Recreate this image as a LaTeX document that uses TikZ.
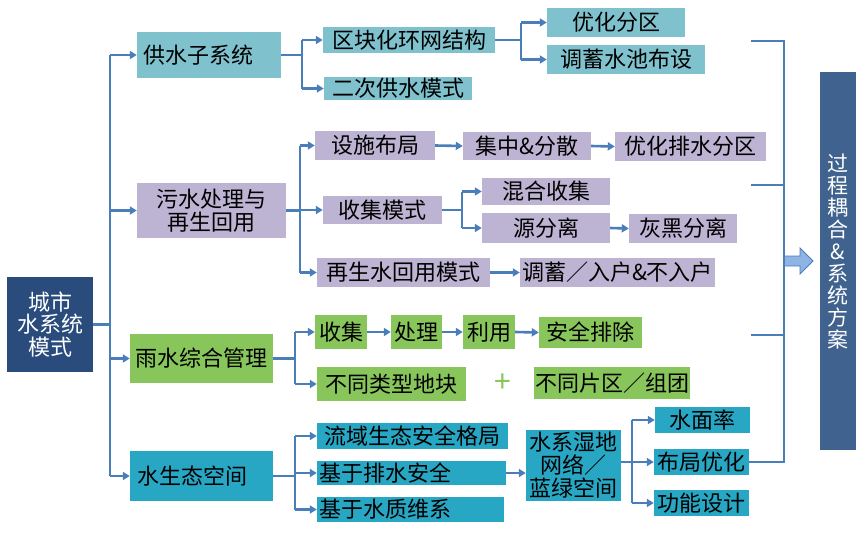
\documentclass[tikz,border=0pt]{standalone}
\usepackage{fontspec}
\setmainfont{Noto Sans CJK SC}
\usetikzlibrary{arrows.meta,calc}
\definecolor{cteal}{RGB}{127,194,206}
\definecolor{cpurple}{RGB}{189,179,210}
\definecolor{cgreen}{RGB}{136,198,92}
\definecolor{ceco}{RGB}{40,167,196}
\definecolor{cnavy}{RGB}{41,76,125}
\definecolor{cgc}{RGB}{64,98,142}
\definecolor{cline}{RGB}{74,126,187}
\definecolor{cafill}{RGB}{141,180,226}
\begin{document}
\begin{tikzpicture}[x=1pt,y=-1pt,
  bx/.style={rectangle,inner sep=0pt,text=black,font=\fontsize{22}{23}\selectfont,align=center},
  tealbox/.style={bx,fill=cteal},
  purbox/.style={bx,fill=cpurple},
  grnbox/.style={bx,fill=cgreen},
  ecobox/.style={bx,fill=ceco},
  ln/.style={draw=cline,line width=2.6pt},
  arr/.style={ln,-{Triangle[length=7pt,width=8pt]}}
]
\useasboundingbox[fill=white] (0,0) rectangle (865,533);

% main boxes
\node[bx,fill=cnavy,text=white,minimum width=86pt,minimum height=95pt,font=\fontsize{22}{22.5}\selectfont] (city) at (50,324.5) {城市\\水系统\\模式};
\node[tealbox,text width=132pt,inner xsep=6pt,minimum height=46pt,align=left] (gs) at (209,55) {供水子系统};
\node[purbox,minimum width=149pt,minimum height=55pt,font=\fontsize{22}{22.5}\selectfont] (ws) at (211.5,210.5) {污水处理与\\再生回用};
\node[grnbox,minimum width=143pt,minimum height=49pt] (ys) at (201.5,358.5) {雨水综合管理};
\node[ecobox,text width=129pt,inner xsep=7pt,minimum height=50pt,align=left] (st) at (201.5,476) {水生态空间};

% water supply
\node[tealbox,minimum width=172pt,minimum height=26pt] (qk) at (409,40) {区块化环网结构};
\node[tealbox,minimum width=148pt,minimum height=23pt] (ec) at (398,88.5) {二次供水模式};
\node[tealbox,minimum width=138pt,minimum height=29pt] (yh) at (616,22.5) {优化分区};
\node[tealbox,minimum width=158pt,minimum height=29pt] (tx) at (626,59.5) {调蓄水池布设};

% sewage
\node[purbox,minimum width=120pt,minimum height=29pt] (ss) at (375,145.5) {设施布局};
\node[purbox,minimum width=128pt,minimum height=28pt] (jz) at (527,146) {集中\&分散};
\node[purbox,minimum width=151pt,minimum height=29pt] (yp) at (690.5,146.5) {优化排水分区};
\node[purbox,minimum width=119pt,minimum height=28pt] (sj) at (382.5,210) {收集模式};
\node[purbox,minimum width=128pt,minimum height=27pt] (hh) at (546,191.5) {混合收集};
\node[purbox,minimum width=128pt,minimum height=30pt] (yf) at (546,228) {源分离};
\node[purbox,minimum width=108pt,minimum height=29pt] (hs) at (683,228.5) {灰黑分离};
\node[purbox,minimum width=173pt,minimum height=29pt] (zs) at (403.5,272.5) {再生水回用模式};
\node[purbox,minimum width=195pt,minimum height=29pt] (tr) at (617.5,272.5) {调蓄／入户\&不入户};

% rainwater
\node[grnbox,minimum width=52pt,minimum height=34pt] (c1) at (341,332) {收集};
\node[grnbox,minimum width=51pt,minimum height=34pt] (c2) at (416.5,332) {处理};
\node[grnbox,minimum width=52pt,minimum height=34pt] (c3) at (489,332) {利用};
\node[grnbox,minimum width=103pt,minimum height=31pt] (c4) at (590.5,332.5) {安全排除};
\node[grnbox,minimum width=149pt,minimum height=34pt] (bt) at (391.5,384) {不同类型地块};
\node[text=cgreen,font=\fontsize{30}{30}\selectfont,inner sep=0pt] (plus) at (503,383) {+};
\node[grnbox,minimum width=156pt,minimum height=32pt] (bp) at (612,383) {不同片区／组团};

% water ecology
\node[ecobox,minimum width=191pt,minimum height=26pt] (ly) at (412.5,436) {流域生态安全格局};
\node[ecobox,text width=185pt,inner xsep=2pt,minimum height=24pt,align=left] (pa) at (411.5,473) {基于排水安全};
\node[ecobox,text width=183pt,inner xsep=2pt,minimum height=25pt,align=left] (sz) at (410.5,509.5) {基于水质维系};
\node[ecobox,minimum width=95pt,minimum height=71pt,font=\fontsize{22}{23}\selectfont] (sx) at (573.5,465.5) {水系湿地\\网络／\\蓝绿空间};
\node[ecobox,minimum width=95pt,minimum height=26pt] (sm) at (702.5,420) {水面率};
\node[ecobox,minimum width=95pt,minimum height=26pt] (bj) at (701.5,462) {布局优化};
\node[ecobox,minimum width=95pt,minimum height=26pt] (gn) at (701.5,503) {功能设计};

% right result box
\node[rectangle,fill=cgc,minimum width=36pt,minimum height=378pt,inner sep=0pt] (gc) at (838,261) {};
\node[text=white,font=\fontsize{21}{22}\selectfont,align=center,inner sep=0pt] (gct) at (838,252) {过\\程\\耦\\合\\\&\\系\\统\\方\\案};

% trunk
\coordinate (t0) at (110,0);
\draw[ln] (city.east) -- (city.east -| t0);
\draw[ln] (gs.west -| t0) -- (st.west -| t0);
\foreach \n in {gs,ws,ys,st} \draw[arr] (\n.west -| t0) -- (\n.west);

% supply branches
\coordinate (t1) at (302,0);
\draw[ln] (gs.east) -- (gs.east -| t1);
\draw[ln] (qk.west -| t1) -- (ec.west -| t1);
\draw[arr] (qk.west -| t1) -- (qk.west);
\draw[arr] (ec.west -| t1) -- (ec.west);
\coordinate (t2) at (521,0);
\draw[ln] (qk.east) -- (qk.east -| t2);
\draw[ln] (yh.west -| t2) -- (tx.west -| t2);
\draw[arr] (yh.west -| t2) -- (yh.west);
\draw[arr] (tx.west -| t2) -- (tx.west);

% sewage branches
\coordinate (t3) at (300,0);
\draw[ln] (ws.east) -- (ws.east -| t3);
\draw[ln] (ss.west -| t3) -- (zs.west -| t3);
\foreach \n in {ss,sj,zs} \draw[arr] (\n.west -| t3) -- (\n.west);
\draw[arr] (ss.east) -- (jz.west);
\draw[arr] (jz.east) -- (yp.west);
\coordinate (t4) at (462,0);
\draw[ln] (sj.east) -- (sj.east -| t4);
\draw[ln] (hh.west -| t4) -- (yf.west -| t4);
\draw[arr] (hh.west -| t4) -- (hh.west);
\draw[arr] (yf.west -| t4) -- (yf.west);
\draw[arr] (yf.east) -- (hs.west);
\draw[arr] (zs.east) -- (tr.west);

% rainwater branches
\coordinate (t5) at (295,0);
\draw[ln] (ys.east) -- (ys.east -| t5);
\draw[ln] (c1.west -| t5) -- (bt.west -| t5);
\draw[arr] (c1.west -| t5) -- (c1.west);
\draw[arr] (bt.west -| t5) -- (bt.west);
\draw[arr] (c1.east) -- (c2.west);
\draw[arr] (c2.east) -- (c3.west);
\draw[arr] (c3.east) -- (c4.west);

% ecology branches
\draw[ln] (st.east) -- (st.east -| t5);
\draw[ln] (ly.west -| t5) -- (sz.west -| t5);
\foreach \n in {ly,pa,sz} \draw[arr] (\n.west -| t5) -- (\n.west);
\draw[arr] (pa.east) -- (pa.east -| sx.west);
\coordinate (t6) at (632,0);
\draw[ln] (bj.west -| sx.east) -- (bj.west -| t6);
\draw[ln] (sm.west -| t6) -- (gn.west -| t6);
\foreach \n in {sm,bj,gn} \draw[arr] (\n.west -| t6) -- (\n.west);

% collector on the right
\coordinate (col) at (784,0);
\coordinate (r1) at (751,41);
\coordinate (r2) at (751,185);
\coordinate (r3) at (751,335);
\coordinate (ba) at (784,261);
\draw[draw=cline,fill=cafill,line width=0.8pt,line join=miter]
  (ba) ++(0,-5) -- ++(16,0) -- ++(0,-8) -- ++(13,13) -- ++(-13,13) -- ++(0,-8) -- ++(-16,0) -- cycle;
\draw[ln] (r1) -- (r1 -| col) -- (bj.east -| col) -- (bj.east);
\draw[ln] (r2) -- (r2 -| col);
\draw[ln] (r3) -- (r3 -| col);
\end{tikzpicture}
\end{document}
